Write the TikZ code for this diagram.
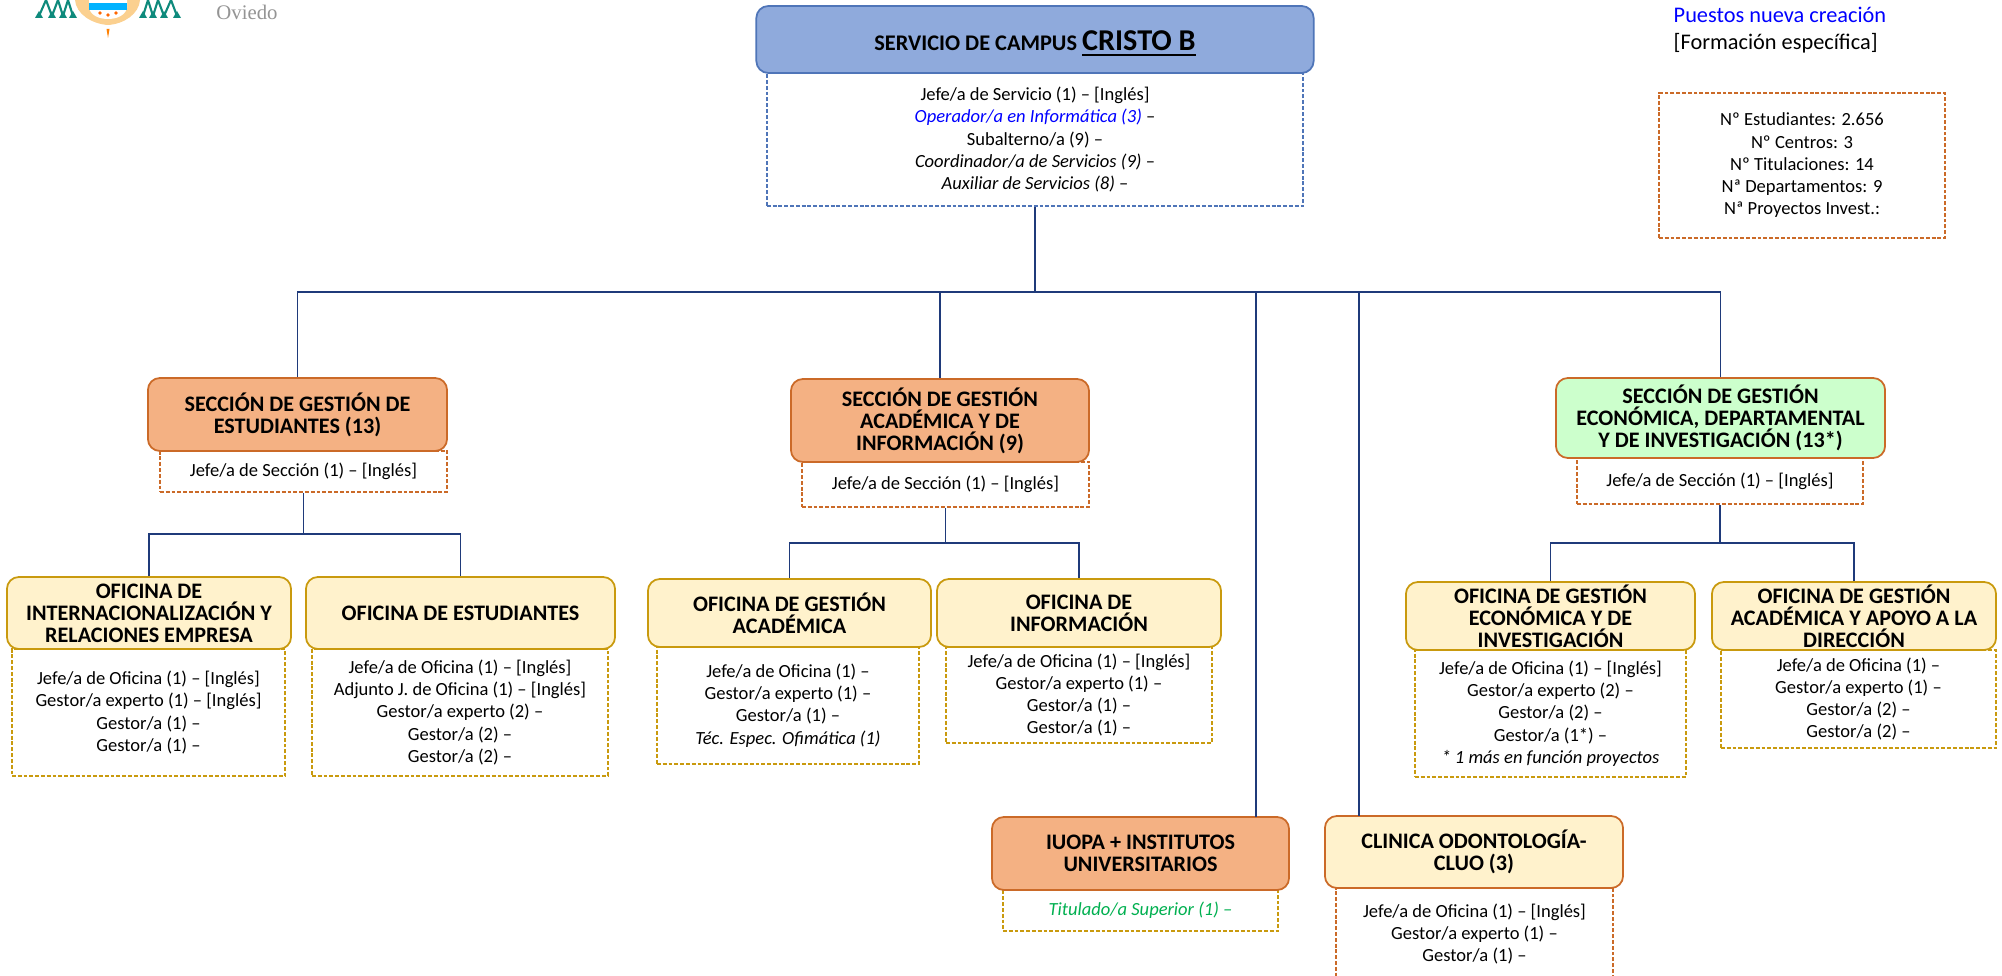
\documentclass[tikz,border=0pt]{standalone}
\usepackage{fontspec}
\setmainfont{Carlito}
\newfontfamily\crestfont{Liberation Serif}
\usepackage[HTML]{xcolor}
\usepackage{tikz}
\usetikzlibrary{positioning, calc}
\definecolor{navyline}{HTML}{1F3A7A}
\definecolor{topfill}{HTML}{8FAADC}
\definecolor{topedge}{HTML}{4F75B8}
\definecolor{orangefill}{HTML}{F4B183}
\definecolor{orangeedge}{HTML}{CB6A28}
\definecolor{creamfill}{HTML}{FFF2CC}
\definecolor{goldedge}{HTML}{C99A0E}
\definecolor{mintfill}{HTML}{CCFFCC}
\definecolor{newgreen}{HTML}{00B050}
\definecolor{crestteal}{HTML}{0E8A7C}
\definecolor{crestsand}{HTML}{FBD08F}

\begin{document}
\begin{tikzpicture}[x=0.01cm, y=-0.01cm,
  head/.style={draw, rounded corners=0.12cm, line width=0.5pt, align=center, inner sep=0pt,
    font=\fontsize{6.3pt}{6.25pt}\selectfont\bfseries},
  orangehead/.style={head, fill=orangefill, draw=orangeedge},
  creamhead/.style={head, fill=creamfill, draw=goldedge},
  staff/.style={draw, dashed, dash pattern=on 1.1pt off 0.55pt, line width=0.5pt, fill=white, align=center, inner sep=0pt,
    font=\fontsize{5.27pt}{6.32pt}\selectfont},
  orangestaff/.style={staff, draw=orangeedge},
  goldstaff/.style={staff, draw=goldedge},
  link/.style={navyline, line width=0.5pt}]
\path[use as bounding box, clip] (0,0) rectangle (2002,976);
% Crest cut by the top edge
\foreach \xa/\xb in {39/46, 52/46, 52/58, 63/58, 63/68, 73/68, 143/148, 153/148, 153/158, 164/158, 164/171, 177/171}
  \draw[crestteal, line width=0.6pt] (\xa,16) -- (\xb,0);
\foreach \xa in {39, 52, 63, 73, 143, 153, 164, 177}
  \fill[crestteal] (\xa,11) -- (\xa+4,18) -- (\xa-4,18) -- cycle;
\fill[crestsand] (75,0) .. controls (76,14) and (92,24) .. (108,25) .. controls (124,24) and (139,14) .. (140,0) -- cycle;
\fill[white] (89,0) -- (127,0) -- (127,8) .. controls (125,16) and (116,19) .. (108,19) .. controls (100,19) and (91,16) .. (89,8) -- cycle;
\fill[cyan!70!blue] (89,3) rectangle (127,10);
\fill[orange!80!red] (100,13) circle (1.8) (108,15) circle (1.8) (116,13) circle (1.8);
\fill[orange] (106.5,29) -- (109.5,29) -- (108,38) -- cycle;
\node[text=black!42, font=\fontsize{5.9pt}{7pt}\crestfont] (oviedo) at (247,12) {Oviedo};
% Legend and figures
\node[anchor=west, inner sep=0pt, text=blue, font=\fontsize{6.35pt}{7pt}\selectfont] (legnew) at (1673,15) {Puestos nueva creación};
\node[anchor=west, inner sep=0pt, font=\fontsize{6.35pt}{7pt}\selectfont] (legform) at (1673,43) {[Formación específica]};
\node[orangestaff, minimum width=2.86cm, minimum height=1.45cm] (figures) at (1802,165.5)
  {Nº Estudiantes: 2.656\\Nº Centros: 3\\Nº Titulaciones: 14\\Nª Departamentos: 9\\Nª Proyectos Invest.:};
% Campus service
\node[staff, draw=topedge, minimum width=5.36cm, minimum height=1.33cm] (toplist) at (1035,139.5)
  {Jefe/a de Servicio (1) – [Inglés]\\\textcolor{blue}{\textit{Operador/a en Informática (3)}} –\\Subalterno/a (9) –\\\textit{Coordinador/a de Servicios (9)} –\\\textit{Auxiliar de Servicios (8)} –};
\node[head, fill=topfill, draw=topedge, minimum width=5.57cm, minimum height=0.67cm] (top) at (1035,39.5)
  {\smash{\raisebox{-3pt}{\fontsize{6.35pt}{7pt}\selectfont SERVICIO DE CAMPUS {\fontsize{8.6pt}{8pt}\selectfont\underline{CRISTO B}}}}};
% Sections
\node[orangestaff, minimum width=2.87cm, minimum height=0.41cm] (seclistA) at (303.5,471.5) {Jefe/a de Sección (1) – [Inglés]};
\node[orangehead, minimum width=2.99cm, minimum height=0.73cm] (secA) at (297.5,414.5) {SECCIÓN DE GESTIÓN DE\\ESTUDIANTES (13)};
\node[orangestaff, minimum width=2.87cm, minimum height=0.45cm] (seclistB) at (945.5,484.5) {Jefe/a de Sección (1) – [Inglés]};
\node[orangehead, minimum width=2.98cm, minimum height=0.83cm] (secB) at (940,420.5) {SECCIÓN DE GESTIÓN\\ACADÉMICA Y DE\\INFORMACIÓN (9)};
\node[orangestaff, minimum width=2.86cm, minimum height=0.46cm] (seclistC) at (1720,481) {Jefe/a de Sección (1) – [Inglés]};
\node[head, fill=mintfill, draw=orangeedge, minimum width=3.29cm, minimum height=0.80cm] (secC) at (1720.5,418) {SECCIÓN DE GESTIÓN\\ECONÓMICA, DEPARTAMENTAL\\Y DE INVESTIGACIÓN (13*)};
% Offices under the first section
\node[goldstaff, minimum width=2.73cm, minimum height=1.27cm] (oflistA) at (148.5,712.5)
  {Jefe/a de Oficina (1) – [Inglés]\\Gestor/a experto (1) – [Inglés]\\Gestor/a (1) –\\Gestor/a (1) –};
\node[creamhead, minimum width=2.84cm, minimum height=0.72cm] (ofA) at (149,613) {OFICINA DE\\INTERNACIONALIZACIÓN Y\\RELACIONES EMPRESA};
\node[goldstaff, minimum width=2.96cm, minimum height=1.27cm] (oflistB) at (460,712.5)
  {Jefe/a de Oficina (1) – [Inglés]\\Adjunto J. de Oficina (1) – [Inglés]\\Gestor/a experto (2) –\\Gestor/a (2) –\\Gestor/a (2) –};
\node[creamhead, minimum width=3.09cm, minimum height=0.72cm] (ofB) at (460.5,613) {OFICINA DE ESTUDIANTES};
% Offices under the second section
\node[goldstaff, minimum width=2.62cm, minimum height=1.17cm] (oflistC) at (788,705.5)
  {Jefe/a de Oficina (1) –\\Gestor/a experto (1) –\\Gestor/a (1) –\\\textit{Téc. Espec. Ofimática (1)}};
\node[creamhead, minimum width=2.83cm, minimum height=0.68cm] (ofC) at (789.5,613) {OFICINA DE GESTIÓN\\ACADÉMICA};
\node[goldstaff, minimum width=2.66cm, minimum height=0.96cm] (oflistD) at (1079,695)
  {Jefe/a de Oficina (1) – [Inglés]\\Gestor/a experto (1) –\\Gestor/a (1) –\\Gestor/a (1) –};
\node[creamhead, minimum width=2.84cm, minimum height=0.68cm] (ofD) at (1079,613) {OFICINA DE\\INFORMACIÓN};
% Offices under the third section
\node[goldstaff, minimum width=2.71cm, minimum height=1.27cm] (oflistE) at (1550.5,713.5)
  {Jefe/a de Oficina (1) – [Inglés]\\Gestor/a experto (2) –\\Gestor/a (2) –\\Gestor/a (1*) –\\\textit{* 1 más en función proyectos}};
\node[creamhead, minimum width=2.89cm, minimum height=0.68cm] (ofE) at (1550.5,616) {OFICINA DE GESTIÓN\\ECONÓMICA Y DE\\INVESTIGACIÓN};
\node[goldstaff, minimum width=2.75cm, minimum height=0.98cm] (oflistF) at (1858.5,699)
  {Jefe/a de Oficina (1) –\\Gestor/a experto (1) –\\Gestor/a (2) –\\Gestor/a (2) –};
\node[creamhead, minimum width=2.84cm, minimum height=0.68cm] (ofF) at (1854,616) {OFICINA DE GESTIÓN\\ACADÉMICA Y APOYO A LA\\DIRECCIÓN};
% Institutes and clinic
\node[goldstaff, minimum width=2.75cm, minimum height=0.41cm] (iuopalist) at (1140.5,910.5) {\textcolor{newgreen}{\textit{Titulado/a Superior (1) –}}};
\node[orangehead, minimum width=2.97cm, minimum height=0.73cm] (iuopa) at (1140.5,853.5) {IUOPA + INSTITUTOS\\UNIVERSITARIOS};
\node[orangestaff, minimum width=2.77cm, minimum height=0.92cm] (cluolist) at (1474.5,934) {Jefe/a de Oficina (1) – [Inglés]\\Gestor/a experto (1) –\\Gestor/a (1) –};
\node[head, fill=creamfill, draw=orangeedge, minimum width=2.98cm, minimum height=0.72cm] (cluo) at (1474,852) {CLINICA ODONTOLOGÍA-\\CLUO (3)};
% Junction points of the links
\coordinate (bus) at (1035,292);
\coordinate (iuopaup) at (1256,817);
\coordinate (cluoup) at (1359,816);
\coordinate (forkA) at (303.5,534);
\coordinate (forkB) at (945.5,543);
\coordinate (forkC) at (1720,543);
% Main links
\draw[link] (toplist.south) -- (bus);
\draw[link] (secA.north) |- (bus);
\draw[link] (secB.north) |- (bus);
\draw[link] (secC.north) |- (bus);
\draw[link] (iuopaup) |- (bus);
\draw[link] (cluoup) |- (bus);
% Section links
\draw[link] (seclistA.south) -- (forkA);
\draw[link] (ofA.north) |- (forkA);
\draw[link] (ofB.north) |- (forkA);
\draw[link] (seclistB.south) -- (forkB);
\draw[link] (ofC.north) |- (forkB);
\draw[link] (ofD.north) |- (forkB);
\draw[link] (seclistC.south) -- (forkC);
\draw[link] (ofE.north) |- (forkC);
\draw[link] (ofF.north) |- (forkC);
\end{tikzpicture}
\end{document}
